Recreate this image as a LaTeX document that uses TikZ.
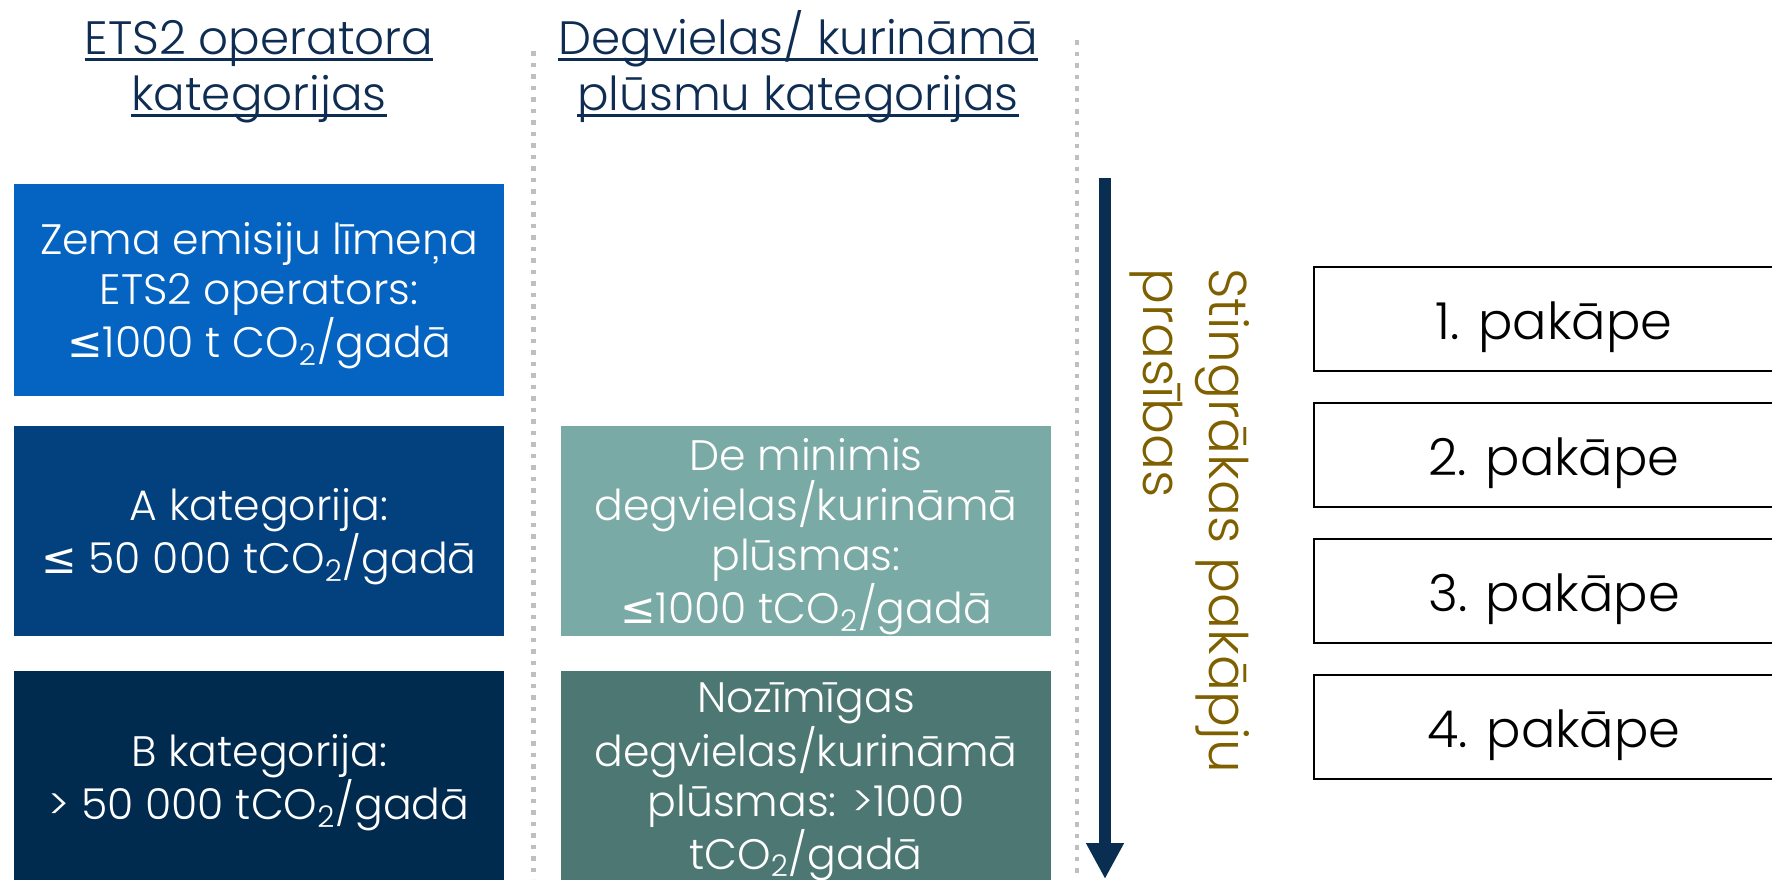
\documentclass[tikz,border=0pt]{standalone}
\usepackage{fontspec}
\setmainfont{Poppins Light}
\newfontfamily\symfont{DejaVu Sans}
\usetikzlibrary{arrows.meta}

\definecolor{hdrnavy}{HTML}{0F2D52}
\definecolor{lowblue}{HTML}{0563C1}
\definecolor{catAblue}{HTML}{03407E}
\definecolor{catBblue}{HTML}{012A4F}
\definecolor{flowlow}{HTML}{7AAAA5}
\definecolor{flowhigh}{HTML}{4C7773}
\definecolor{arrownavy}{HTML}{0A2D52}
\definecolor{strictbrown}{HTML}{7F6000}
\definecolor{sepgray}{HTML}{BFBFBF}

\newcommand{\lesym}{{\symfont ≤}}
\newcommand{\cotwo}{CO\textsubscript{2}}
\newsavebox{\hdrbox}
\newcommand{\hdrul}[1]{\sbox{\hdrbox}{#1}\rlap{\rule[-0.15em]{\wd\hdrbox}{0.06em}}\usebox{\hdrbox}}

\tikzset{
    hdr/.style={align=center, inner sep=0pt, anchor=base, text=hdrnavy, font=\fontsize{23.4}{28}\selectfont},
    catbox/.style={minimum width=245pt, minimum height=#1, inner sep=0pt, align=center,
        text depth=0pt, text=white, font=\fontsize{21.3}{25.1}\selectfont},
    sepline/.style={sepgray, line width=2.25pt, dash pattern=on 2.25pt off 3.5pt},
    strictarrow/.style={arrownavy, line width=5.75pt, -{Triangle[width=17.75pt,length=18pt]}},
    stepbox/.style={draw, line width=1.25pt, minimum width=240pt, minimum height=52pt,
        inner sep=0pt, text height=20pt, text depth=0pt, font=\fontsize{25.5}{28}\selectfont}
}

\begin{document}
\begin{tikzpicture}[x=0.5pt,y=-0.5pt]
    \clip (0,0) rectangle (1772,879);
    % column headers
    \node[hdr] (hdrops) at (259,110) {\hdrul{ETS2 operatora}\\\hdrul{kategorijas}};
    \node[hdr] (hdrflows) at (798,110) {\hdrul{Degvielas/ kurināmā}\\\hdrul{plūsmu kategorijas}};

    % dotted separators
    \coordinate (sepAtop) at (533.5,51);
    \coordinate (sepAbot) at (533.5,879);
    \coordinate (sepBtop) at (1077,40);
    \coordinate (sepBbot) at (1077,879);
    \draw[sepline] (sepAtop) -- (sepAbot);
    \draw[sepline] (sepBtop) -- (sepBbot);

    % operator categories
    \node[catbox=105.75pt, fill=lowblue] (lowops) at (259,290)
        {Zema emisiju līmeņa\\ETS2 operators:\\\lesym1000 t \cotwo/gadā};
    \node[catbox=105pt, fill=catAblue] (catA) at (259,531)
        {A kategorija:\\\lesym{} 50 000 t\cotwo/gadā};
    \node[catbox=106pt, fill=catBblue] (catB) at (259,777)
        {B kategorija:\\> 50 000 t\cotwo/gadā};

    % flow categories
    \node[catbox=105pt, fill=flowlow] (minflow) at (806,531)
        {De minimis\\degvielas/kurināmā\\plūsmas:\\\lesym1000 t\cotwo/gadā};
    \node[catbox=105pt, fill=flowhigh] (bigflow) at (806,776)
        {Nozīmīgas\\degvielas/kurināmā\\plūsmas: >1000\\t\cotwo/gadā};

    % stricter requirements
    \coordinate (strictA) at (1105,178);
    \coordinate (strictB) at (1105,879);
    \draw[strictarrow] (strictA) -- (strictB);
    \node[rotate=-90, anchor=north west, align=left, inner sep=0pt, text=strictbrown,
        font=\fontsize{26.6}{33}\selectfont] (strictlbl) at (1250,268)
        {Stingrākas pakāpju\\prasības};

    % levels
    \foreach \n/\y in {1/319,2/455,3/591,4/727}
        \node[stepbox] (lvl\n) at (1554,\y) {\n. pakāpe};
\end{tikzpicture}
\end{document}
